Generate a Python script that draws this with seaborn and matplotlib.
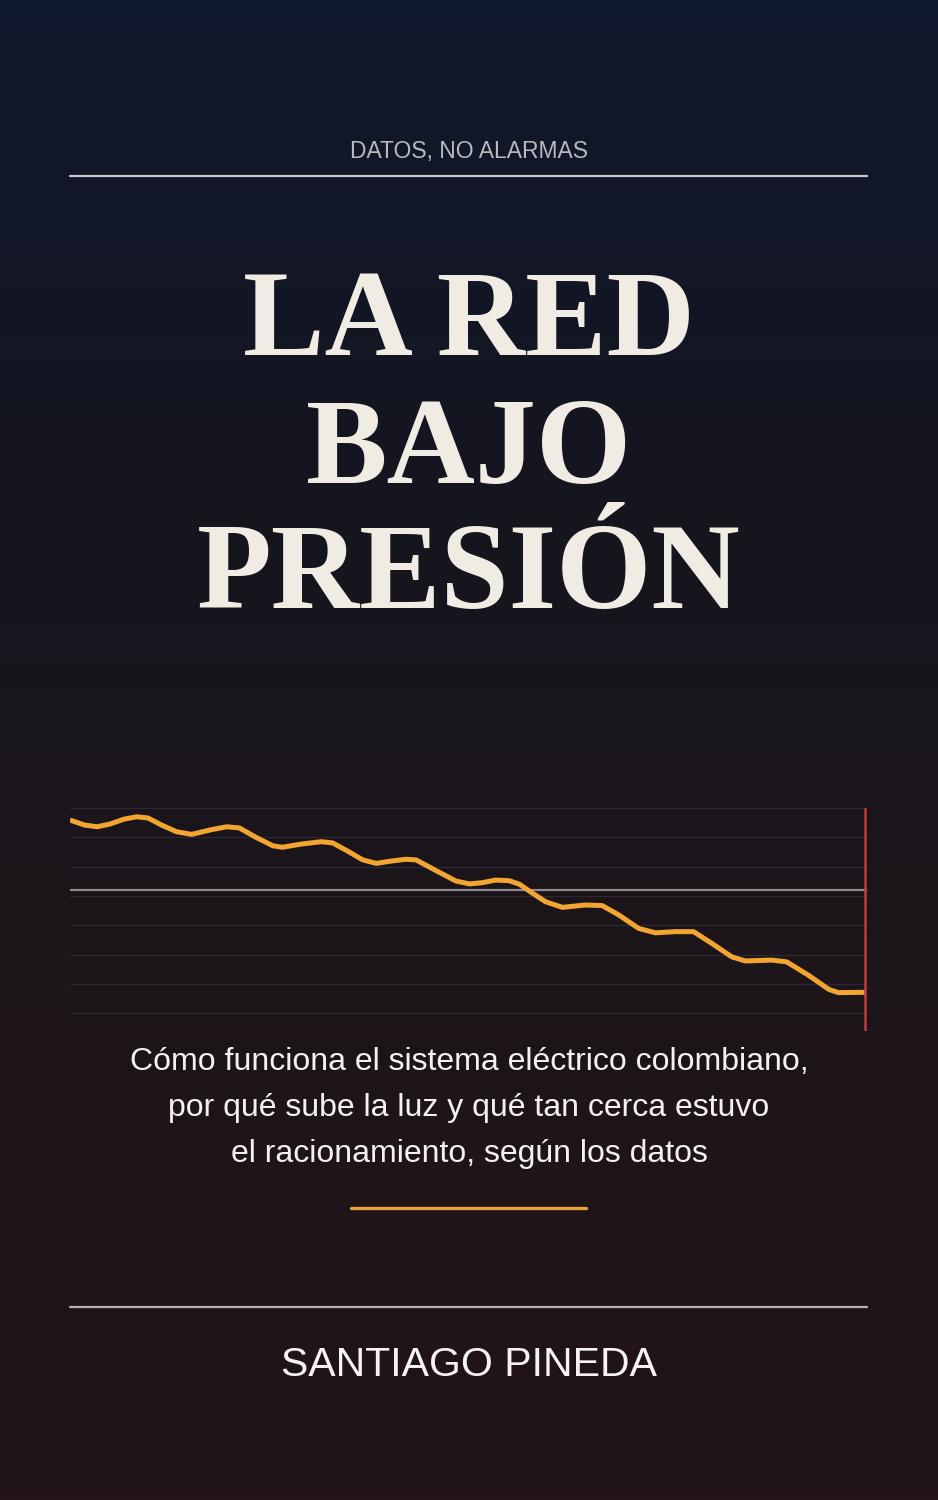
import numpy as np
import pandas as pd
import seaborn as sns
import matplotlib.pyplot as plt
from matplotlib.colors import LinearSegmentedColormap

# --- Data ---
# x: position along the period (0-100), y: level on the chart scale
periodo = [0, 1.8, 3.4, 5.0, 6.8, 8.4, 9.8, 11.5, 13.4, 15.3, 17.6, 19.7, 21.3,
           23.3, 25.5, 26.7, 29.1, 31.6, 33.0, 34.9, 36.8, 38.5, 40.4, 42.2,
           43.5, 45.9, 48.5, 50.2, 51.8, 53.5, 55.2, 56.5, 58.1, 59.8, 61.9,
           64.8, 66.9, 69.0, 71.5, 73.6, 76.1, 78.4, 80.8, 83.2, 84.9, 88.2,
           90.1, 92.8, 95.4, 96.6, 100]
nivel = [95.9, 94.2, 93.6, 94.5, 96.2, 97.0, 96.6, 94.2, 91.9, 91.0, 92.5, 93.6,
         93.2, 90.1, 87.1, 86.6, 87.7, 88.5, 88.1, 85.3, 82.3, 81.1, 81.9,
         82.5, 82.3, 78.8, 75.1, 74.1, 74.5, 75.4, 75.2, 74.0, 71.0, 68.0,
         66.1, 66.9, 66.7, 63.5, 58.9, 57.4, 57.8, 57.8, 53.6, 49.2, 47.8,
         48.1, 47.5, 43.0, 38.1, 37.0, 37.1]
grid_levels = [100, 90, 80, 70, 60, 50, 40, 30]
umbral = 72.0

kicker = "DATOS, NO ALARMAS"
title_lines = ["LA RED", "BAJO", "PRESIÓN"]
subtitle_lines = ["Cómo funciona el sistema eléctrico colombiano,",
                  "por qué sube la luz y qué tan cerca estuvo",
                  "el racionamiento, según los datos"]
author = "SANTIAGO PINEDA"

df = pd.DataFrame({"periodo": periodo, "nivel": nivel})

# --- Figure & background ---
sns.set_theme(style="dark")
plt.rcParams['font.family'] = ['Liberation Sans', 'DejaVu Sans']

W, H = 938, 1500
fig = plt.figure(figsize=(W / 100, H / 100), dpi=100)

bg = fig.add_axes([0, 0, 1, 1])
cmap = LinearSegmentedColormap.from_list(
    "cover", ["#0f192d", "#15151f", "#1d1519", "#22141a"])
grad = np.linspace(0, 1, 256).reshape(-1, 1)
bg.imshow(grad, aspect="auto", cmap=cmap, extent=[0, 1, 0, 1], origin="upper")
bg.set_xlim(0, 1)
bg.set_ylim(0, 1)
bg.axis("off")


def fy(px):
    return 1 - px / H


def fx(px):
    return px / W


# kicker + rule
fig.text(0.5, fy(158), kicker, ha="center", va="baseline",
         fontsize=16.5, color="#b9b9bd")
bg.plot([fx(70), fx(867)], [fy(176), fy(176)], color="#c9c9cc", lw=1.6)

# title
for line, base in zip(title_lines, [355, 483, 608]):
    fig.text(0.5, fy(base), line, ha="center", va="baseline",
             fontsize=88, fontweight="bold", color="#f0ece4",
             family=["Liberation Serif", "DejaVu Serif"])

# --- Chart ---
ax = fig.add_axes([fx(70), fy(1031), fx(867) - fx(70), (1031 - 808) / H])
ax.set_facecolor("none")
ax.patch.set_alpha(0)
for s in ax.spines.values():
    s.set_visible(False)

for g in grid_levels:
    ax.axhline(g, xmin=0, xmax=0.997, color="#2c2836", lw=0.9, zorder=1)
ax.axhline(umbral, color="#8b8a92", lw=1.6, zorder=2)

sns.lineplot(data=df, x="periodo", y="nivel", ax=ax, color="#f2a531",
             lw=3.6, zorder=3, solid_joinstyle="round", solid_capstyle="butt")
ax.axvline(100, color="#c23a3c", lw=1.8, zorder=4)

ax.set_xlim(0, 100.2)
ax.set_ylim(23.9, 100)
ax.set_xticks([])
ax.set_yticks([])
ax.set_xlabel("")
ax.set_ylabel("")
ax.grid(False)

# subtitle
for line, base in zip(subtitle_lines, [1070, 1116, 1162]):
    fig.text(0.5, fy(base), line, ha="center", va="baseline",
             fontsize=23, color="#f4f2f0")

bg.plot([fx(351), fx(586)], [fy(1208), fy(1208)], color="#eaa23a", lw=2.4)
bg.plot([fx(70), fx(867)], [fy(1307), fy(1307)], color="#bcb3ae", lw=1.6)

fig.text(0.5, fy(1376), author, ha="center", va="baseline",
         fontsize=29.5, color="#f6f4f2")

fig.savefig("out.png", dpi=100, facecolor=fig.get_facecolor())
